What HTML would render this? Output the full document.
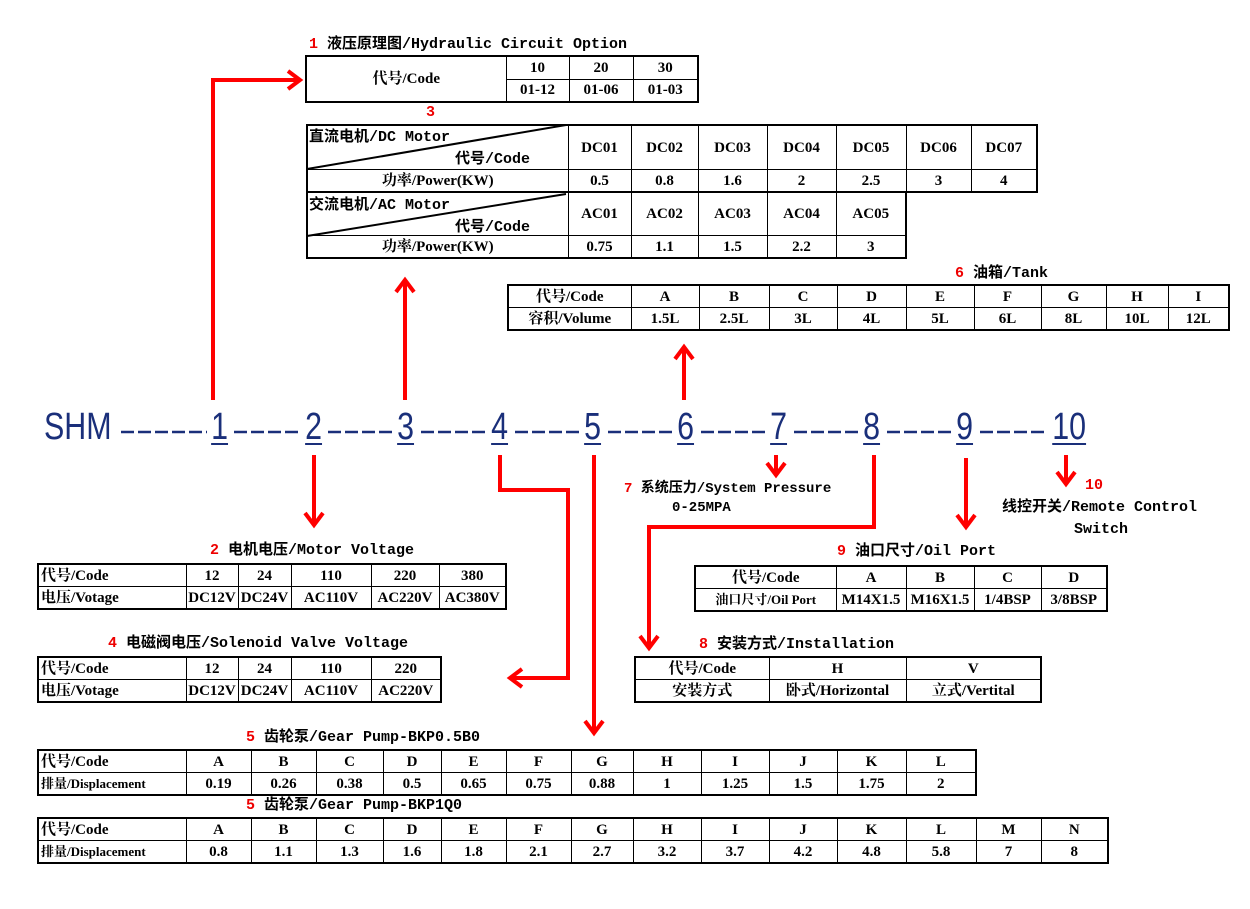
<!DOCTYPE html>
<html><head><meta charset="utf-8">
<style>
body{margin:0;width:1250px;height:909px;background:#fff;position:relative;overflow:hidden;font-family:"Liberation Serif","Noto Serif CJK SC","Noto Sans CJK SC",serif;color:#000}
.t{position:absolute;border-collapse:collapse;table-layout:fixed;border:2px solid #000}
.t td{border:1.5px solid #000;padding:0;text-align:center;height:21px;font-size:15px;font-weight:bold;white-space:nowrap;overflow:hidden;line-height:20px}
.l{text-align:left!important;padding-left:2px!important}
.ti{position:absolute;font-family:"Liberation Mono","Noto Sans CJK SC",monospace;font-size:15px;font-weight:bold;white-space:nowrap;line-height:18px}
.r{color:#e00}
.n{position:absolute;top:405px;font-family:"Liberation Sans","Noto Sans CJK SC",sans-serif;font-size:38px;color:#1a2f7a;line-height:44px;width:60px;text-align:center}
.n span{display:inline-block;transform:scaleX(0.8)}
.u{text-decoration:underline;text-decoration-thickness:2px;text-underline-offset:4px}
svg{position:absolute;left:0;top:0}
</style></head><body>

<div class="ti" style="left:309px;top:36px"><span class="r">1</span> 液压原理图/Hydraulic Circuit Option</div>
<table class="t" style="left:305px;top:55px;width:392px">
<col style="width:200px"><col style="width:63px"><col style="width:64px"><col style="width:65px">
<tr><td rowspan="2" style="height:44px">代号/Code</td><td>10</td><td>20</td><td>30</td></tr>
<tr><td>01-12</td><td>01-06</td><td>01-03</td></tr>
</table>

<div class="ti r" style="left:426px;top:104px">3</div>
<table class="t" style="left:306px;top:124px;width:730px">
<col style="width:261px"><col style="width:63px"><col style="width:67px"><col style="width:69px"><col style="width:69px"><col style="width:70px"><col style="width:65px"><col style="width:66px">
<tr><td style="height:43px"></td><td>DC01</td><td>DC02</td><td>DC03</td><td>DC04</td><td>DC05</td><td>DC06</td><td>DC07</td></tr>
<tr><td>功率/Power(KW)</td><td>0.5</td><td>0.8</td><td>1.6</td><td>2</td><td>2.5</td><td>3</td><td>4</td></tr>
</table>
<table class="t" style="left:306px;top:191px;width:599px">
<col style="width:261px"><col style="width:63px"><col style="width:67px"><col style="width:69px"><col style="width:69px"><col style="width:70px">
<tr><td style="height:42px"></td><td>AC01</td><td>AC02</td><td>AC03</td><td>AC04</td><td>AC05</td></tr>
<tr><td>功率/Power(KW)</td><td>0.75</td><td>1.1</td><td>1.5</td><td>2.2</td><td>3</td></tr>
</table>
<div class="ti" style="left:309px;top:129px">直流电机/DC Motor</div>
<div class="ti" style="left:455px;top:151px">代号/Code</div>
<div class="ti" style="left:309px;top:197px">交流电机/AC Motor</div>
<div class="ti" style="left:455px;top:219px">代号/Code</div>

<div class="ti" style="left:955px;top:265px"><span class="r">6</span> 油箱/Tank</div>
<table class="t" style="left:507px;top:284px;width:721px">
<col style="width:123px"><col style="width:68px"><col style="width:70px"><col style="width:68px"><col style="width:69px"><col style="width:68px"><col style="width:67px"><col style="width:65px"><col style="width:62px"><col style="width:61px">
<tr><td>代号/Code</td><td>A</td><td>B</td><td>C</td><td>D</td><td>E</td><td>F</td><td>G</td><td>H</td><td>I</td></tr>
<tr><td>容积/Volume</td><td>1.5L</td><td>2.5L</td><td>3L</td><td>4L</td><td>5L</td><td>6L</td><td>8L</td><td>10L</td><td>12L</td></tr>
</table>

<div class="n" style="left:44px;width:auto;text-align:left"><span style="transform-origin:left">SHM</span></div>
<div class="n" style="left:190px"><span class="u">1</span></div>
<div class="n" style="left:284px"><span class="u">2</span></div>
<div class="n" style="left:376px"><span class="u">3</span></div>
<div class="n" style="left:470px"><span class="u">4</span></div>
<div class="n" style="left:563px"><span class="u">5</span></div>
<div class="n" style="left:656px"><span class="u">6</span></div>
<div class="n" style="left:749px"><span class="u">7</span></div>
<div class="n" style="left:842px"><span class="u">8</span></div>
<div class="n" style="left:935px"><span class="u">9</span></div>
<div class="n" style="left:1039px"><span class="u">10</span></div>

<div class="ti" style="left:624px;top:480px;font-size:14px"><span class="r">7</span> 系统压力/System Pressure</div>
<div class="ti" style="left:672px;top:499px;font-size:14px">0-25MPA</div>
<div class="ti r" style="left:1085px;top:477px">10</div>
<div class="ti" style="left:1002px;top:499px">线控开关/Remote Control</div>
<div class="ti" style="left:1074px;top:521px">Switch</div>

<div class="ti" style="left:210px;top:542px"><span class="r">2</span> 电机电压/Motor Voltage</div>
<table class="t" style="left:37px;top:563px;width:468px">
<col style="width:148px"><col style="width:52px"><col style="width:53px"><col style="width:80px"><col style="width:68px"><col style="width:67px">
<tr><td class="l">代号/Code</td><td>12</td><td>24</td><td>110</td><td>220</td><td>380</td></tr>
<tr><td class="l">电压/Votage</td><td>DC12V</td><td>DC24V</td><td>AC110V</td><td>AC220V</td><td>AC380V</td></tr>
</table>

<div class="ti" style="left:108px;top:635px"><span class="r">4</span> 电磁阀电压/Solenoid Valve Voltage</div>
<table class="t" style="left:37px;top:656px;width:403px">
<col style="width:148px"><col style="width:52px"><col style="width:53px"><col style="width:80px"><col style="width:70px">
<tr><td class="l">代号/Code</td><td>12</td><td>24</td><td>110</td><td>220</td></tr>
<tr><td class="l">电压/Votage</td><td>DC12V</td><td>DC24V</td><td>AC110V</td><td>AC220V</td></tr>
</table>

<div class="ti" style="left:837px;top:543px"><span class="r">9</span> 油口尺寸/Oil Port</div>
<table class="t" style="left:694px;top:565px;width:412px">
<col style="width:141px"><col style="width:70px"><col style="width:68px"><col style="width:67px"><col style="width:66px">
<tr><td>代号/Code</td><td>A</td><td>B</td><td>C</td><td>D</td></tr>
<tr><td style="font-size:13px">油口尺寸/Oil Port</td><td>M14X1.5</td><td>M16X1.5</td><td>1/4BSP</td><td>3/8BSP</td></tr>
</table>

<div class="ti" style="left:699px;top:636px"><span class="r">8</span> 安装方式/Installation</div>
<table class="t" style="left:634px;top:656px;width:406px">
<col style="width:134px"><col style="width:137px"><col style="width:135px">
<tr><td>代号/Code</td><td>H</td><td>V</td></tr>
<tr><td>安装方式</td><td>卧式/Horizontal</td><td>立式/Vertital</td></tr>
</table>

<div class="ti" style="left:246px;top:729px"><span class="r">5</span> 齿轮泵/Gear Pump-BKP0.5B0</div>
<table class="t" style="left:37px;top:749px;width:938px">
<col style="width:148px"><col style="width:65px"><col style="width:65px"><col style="width:67px"><col style="width:58px"><col style="width:65px"><col style="width:65px"><col style="width:62px"><col style="width:68px"><col style="width:68px"><col style="width:68px"><col style="width:69px"><col style="width:70px">
<tr><td class="l">代号/Code</td><td>A</td><td>B</td><td>C</td><td>D</td><td>E</td><td>F</td><td>G</td><td>H</td><td>I</td><td>J</td><td>K</td><td>L</td></tr>
<tr><td class="l" style="font-size:13px">排量/Displacement</td><td>0.19</td><td>0.26</td><td>0.38</td><td>0.5</td><td>0.65</td><td>0.75</td><td>0.88</td><td>1</td><td>1.25</td><td>1.5</td><td>1.75</td><td>2</td></tr>
</table>

<div class="ti" style="left:246px;top:797px"><span class="r">5</span> 齿轮泵/Gear Pump-BKP1Q0</div>
<table class="t" style="left:37px;top:817px;width:1070px">
<col style="width:148px"><col style="width:65px"><col style="width:65px"><col style="width:67px"><col style="width:58px"><col style="width:65px"><col style="width:65px"><col style="width:62px"><col style="width:68px"><col style="width:68px"><col style="width:68px"><col style="width:69px"><col style="width:70px"><col style="width:65px"><col style="width:67px">
<tr><td class="l">代号/Code</td><td>A</td><td>B</td><td>C</td><td>D</td><td>E</td><td>F</td><td>G</td><td>H</td><td>I</td><td>J</td><td>K</td><td>L</td><td>M</td><td>N</td></tr>
<tr><td class="l" style="font-size:13px">排量/Displacement</td><td>0.8</td><td>1.1</td><td>1.3</td><td>1.6</td><td>1.8</td><td>2.1</td><td>2.7</td><td>3.2</td><td>3.7</td><td>4.2</td><td>4.8</td><td>5.8</td><td>7</td><td>8</td></tr>
</table>

<svg width="1250" height="909" viewBox="0 0 1250 909">
<g stroke="#1a2f7a" stroke-width="2.5" stroke-dasharray="13,4">
<line x1="121" y1="432" x2="207" y2="432"/>
<line x1="234" y1="432" x2="300" y2="432"/>
<line x1="328" y1="432" x2="392" y2="432"/>
<line x1="421" y1="432" x2="486" y2="432"/>
<line x1="515" y1="432" x2="579" y2="432"/>
<line x1="608" y1="432" x2="672" y2="432"/>
<line x1="701" y1="432" x2="765" y2="432"/>
<line x1="794" y1="432" x2="858" y2="432"/>
<line x1="887" y1="432" x2="951" y2="432"/>
<line x1="980" y1="432" x2="1047" y2="432"/>
</g>
<g stroke="#000" stroke-width="2"><line x1="307" y1="169" x2="566" y2="125"/><line x1="307" y1="236" x2="566" y2="194"/></g>
<g fill="none" stroke="#f00" stroke-width="4" stroke-linejoin="miter">
<polyline points="213,400 213,80 300,80"/><polyline points="288,71 300,80 288,89"/>
<line x1="405" y1="400" x2="405" y2="280"/><polyline points="396,292 405,280 414,292"/>
<line x1="684" y1="400" x2="684" y2="347"/><polyline points="675,359 684,347 693,359"/>
<line x1="314" y1="455" x2="314" y2="525"/><polyline points="305,513 314,525 323,513"/>
<polyline points="500,455 500,490 568,490 568,678 510,678"/><polyline points="522,669 510,678 522,687"/>
<line x1="594" y1="455" x2="594" y2="733"/><polyline points="585,721 594,733 603,721"/>
<line x1="776" y1="455" x2="776" y2="475"/><polyline points="767,463 776,475 785,463"/>
<polyline points="874,455 874,527 649,527 649,648"/><polyline points="640,636 649,648 658,636"/>
<line x1="966" y1="458" x2="966" y2="527"/><polyline points="957,515 966,527 975,515"/>
<line x1="1066" y1="455" x2="1066" y2="484"/><polyline points="1057,472 1066,484 1075,472"/>
</g>
</svg>
</body></html>
